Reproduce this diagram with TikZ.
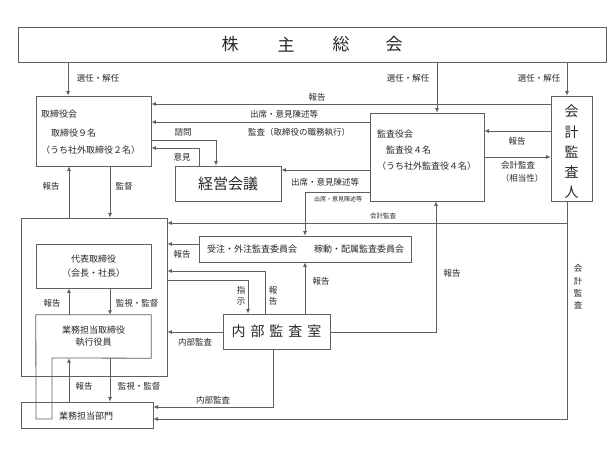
\documentclass[tikz,border=0pt]{standalone}
\usepackage{fontspec}
\setmainfont{Noto Sans CJK JP}
\usetikzlibrary{arrows.meta,calc}
\definecolor{linegray}{RGB}{95,95,95}
\definecolor{txt}{RGB}{40,40,40}
\begin{document}
\begin{tikzpicture}[x=1pt,y=-1pt,
  boxstyle/.style={draw=linegray, line width=0.8pt, rectangle, inner sep=0pt, text=txt},
  ln/.style={draw=linegray, line width=0.8pt},
  arr/.style={draw=linegray, line width=0.8pt, -{Latex[length=4.5pt,width=4pt]}},
  lbl/.style={font=\fontsize{8.5}{10}\selectfont, inner sep=0pt, text=txt},
  smalllbl/.style={font=\fontsize{6}{7}\selectfont, inner sep=0pt, text=txt},
  boxtxt/.style={font=\fontsize{9}{10}\selectfont, inner sep=0pt, text=txt, anchor=west},
]
\useasboundingbox[fill=white] (0,0) rectangle (616,462);

% coordinates
\foreach \xx in {68,69,110,199,216,248,265,273,305,436,437,567} {\coordinate (x\xx) at (\xx,0);}
\foreach \yy in {104,122,140,148,170,192,223,244,271,280,332,407,419} {\coordinate (y\yy) at (0,\yy);}

% boxes
\node[boxstyle, minimum width=588pt, minimum height=35pt] (agm) at (312,44.5) {};
\foreach \c/\xx in {株/230,主/286,総/341,会/394}{\node[font=\fontsize{17}{18}\selectfont, text=txt, inner sep=0pt] at (\xx,44.5) {\c};}

\node[boxstyle, minimum width=115pt, minimum height=70pt] (bod) at (93.5,131) {};
\node[boxtxt] (bodt1) at (41,114) {取締役会};
\node[boxtxt] (bodt2) at (51,133) {取締役９名};
\node[boxtxt] (bodt3) at (41,150) {（うち社外取締役２名）};

\node[boxstyle, minimum width=114pt, minimum height=88pt] (kansa) at (427,157) {};
\node[boxtxt] (kt1) at (377,134) {監査役会};
\node[boxtxt] (kt2) at (386,150) {監査役４名};
\node[boxtxt] (kt3) at (377,166) {（うち社外監査役４名）};

\node[boxstyle, minimum width=41pt, minimum height=105pt] (auditor) at (571.5,148.5) {};
\node[font=\fontsize{14}{20.3}\selectfont, text=txt, inner sep=0pt, align=center] (audt) at (571.5,152) {会\\計\\監\\査\\人};

\node[boxstyle, minimum width=106pt, minimum height=35pt, font=\fontsize{15}{16}\selectfont] (keiei) at (228,183.5) {経営会議};

\node[boxstyle, minimum width=146pt, minimum height=158pt] (big) at (94,297) {};

\node[boxstyle, minimum width=115pt, minimum height=44pt, align=center, font=\fontsize{9}{13.5}\selectfont] (rep) at (93.5,266) {代表取締役\\（会長・社長）};

\node[inner sep=0pt, minimum width=115pt, minimum height=43pt, align=center, font=\fontsize{9}{12}\selectfont, text=txt] (exec) at (93.5,336.5) {業務担当取締役\\執行役員};
\draw[ln] (exec.north west) -- (exec.north east) -- (exec.south east) -- (52,358) -- (52,419) -- (36,419) -- cycle;

\node[boxstyle, minimum width=132pt, minimum height=26pt] (dept) at (87,415) {};
\node[font=\fontsize{9}{10}\selectfont, text=txt, inner sep=0pt] (deptt) at (86,416) {業務担当部門};

\node[boxstyle, minimum width=212pt, minimum height=26pt] (comm) at (305,249) {};
\node[font=\fontsize{9}{10}\selectfont, text=txt, inner sep=0pt] (comm1) at (252,249) {受注・外注監査委員会};
\node[font=\fontsize{9}{10}\selectfont, text=txt, inner sep=0pt] (comm2) at (359,249) {稼動・配属監査委員会};

\node[boxstyle, minimum width=107pt, minimum height=35pt, font=\fontsize{14}{15}\selectfont] (naibu) at (276.5,331.5) {内\hspace{5pt}部\hspace{5pt}監\hspace{5pt}査\hspace{5pt}室};

% connectors from AGM
\draw[arr] (agm.south -| x68) -- (bod.north -| x68);
\node[lbl] (l1) at (98,78) {選任・解任};
\draw[arr] (agm.south -| x437) -- (kansa.north -| x437);
\node[lbl] (l2) at (408,78) {選任・解任};
\draw[arr] (agm.south -| x567) -- (auditor.north -| x567);
\node[lbl] (l3) at (539,78) {選任・解任};

% to board
\draw[arr] (auditor.west |- y104) -- (bod.east |- y104);
\node[lbl] (l4) at (317,97) {報告};
\draw[arr] (kansa.west |- y122) -- (bod.east |- y122);
\node[lbl] (l5) at (284,114.5) {出席・意見陳述等};
\node[lbl] (l6) at (299,132) {監査（取締役の職務執行）};
\draw[arr] (bod.east |- y140) -| (keiei.north -| x216);
\node[lbl] (l7) at (183,132) {諮問};
\draw[arr] (keiei.north -| x199) |- (bod.east |- y148);
\node[lbl] (l8) at (182,157) {意見};

% kansa to keiei / committees
\draw[arr] (kansa.west |- y170) -- (keiei.east |- y170);
\node[lbl] (l9) at (325,182) {出席・意見陳述等};
\draw[arr] (kansa.west |- y192) -| (comm.north -| x305);
\node[smalllbl] (l10) at (338,199) {出席・意見陳述等};

% auditor <-> kansa
\draw[arr] (auditor.west |- 0,131) -- (kansa.east |- 0,131);
\node[lbl] (l11) at (517,141) {報告};
\draw[arr] (kansa.east |- 0,157) -- (auditor.west |- 0,157);
\node[lbl] (l12) at (518,165) {会計監査};
\node[lbl] (l13) at (522,178) {（相当性）};

% auditor downward
\draw[arr] (auditor.south -| x567) |- (dept.east |- y419);
\draw[arr] (x567 |- y223) -- (big.east |- y223);
\node[smalllbl, font=\fontsize{6.5}{7}\selectfont] (l14) at (383,216) {会計監査};
\node[lbl, align=center, font=\fontsize{8.5}{12.3}\selectfont] (l15) at (578,287) {会\\計\\監\\査};

% board <-> big box
\draw[arr] (big.north -| x69) -- (bod.south -| x69);
\node[lbl] (l16) at (51,186) {報告};
\draw[arr] (bod.south -| x110) -- (big.north -| x110);
\node[lbl] (l17) at (124,186) {監督};

% rep <-> exec
\draw[arr] (exec.north -| x69) -- (rep.south -| x69);
\node[lbl] (l18) at (52,303) {報告};
\draw[arr] (rep.south -| x110) -- (exec.north -| x110);
\node[lbl] (l19) at (137,303) {監視・監督};

% exec <-> dept
\draw[arr] (dept.north -| x69) -- (exec.south -| x69);
\node[lbl] (l20) at (84,386) {報告};
\draw[arr] (exec.south -| x110) -- (dept.north -| x110);
\node[lbl] (l21) at (139,386) {監視・監督};

% committees -> big
\draw[arr] (comm.west |- y244) -- (big.east |- y244);
\node[lbl] (l22) at (182,254) {報告};

% internal audit
\draw[arr] (naibu.north -| x265) |- (big.east |- y271);
\node[lbl, align=center, font=\fontsize{8.5}{11}\selectfont] (l23) at (273,295.5) {報\\告};
\draw[arr] (big.east |- y280) -| (naibu.north -| x248);
\node[lbl, align=center, font=\fontsize{8.5}{11}\selectfont] (l24) at (241,295.5) {指\\示};
\draw[arr] (naibu.north -| x305) -- (comm.south);
\node[lbl] (l25) at (321,281) {報告};
\draw[arr] (naibu.west |- y332) -- (big.east |- y332);
\node[lbl] (l26) at (195,342) {内部監査};
\draw[arr] (naibu.east |- y332) -| (kansa.south -| x436);
\node[lbl] (l27) at (452,273) {報告};
\draw[arr] (naibu.south -| x273) |- (dept.east |- y407);
\node[lbl] (l28) at (213,400) {内部監査};
\end{tikzpicture}
\end{document}
